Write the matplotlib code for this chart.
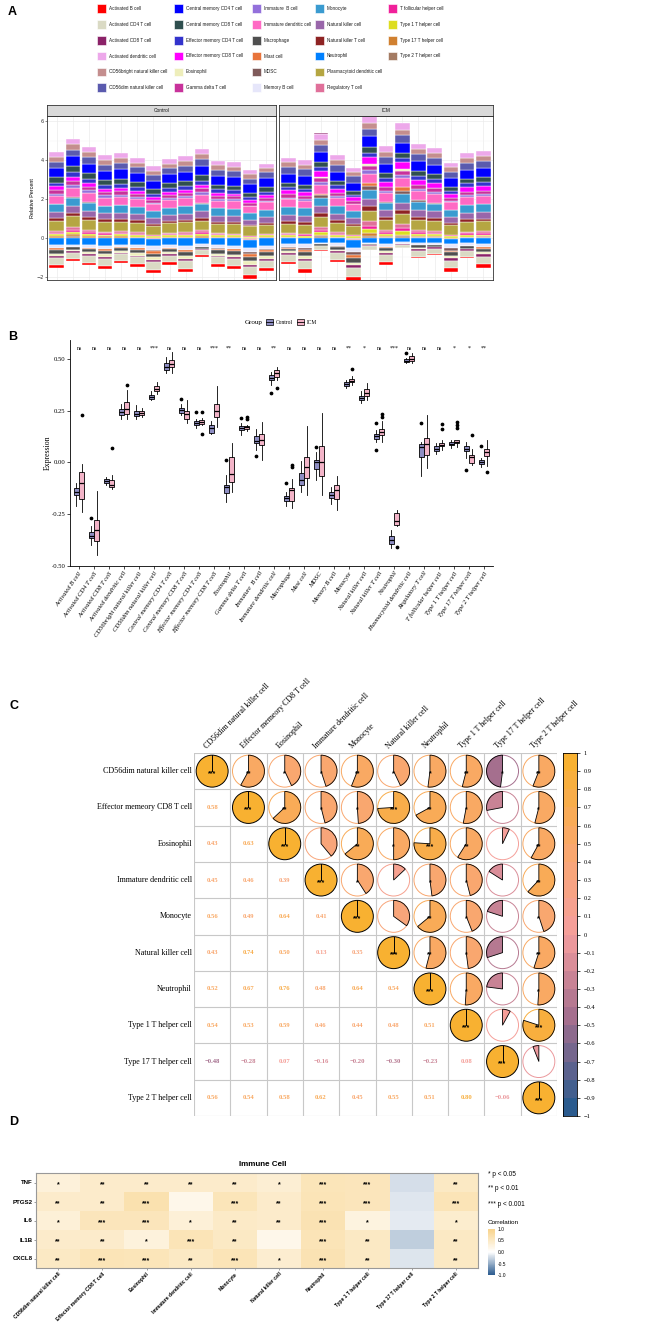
import numpy as np
import matplotlib
matplotlib.use("Agg")
import matplotlib.pyplot as plt
from matplotlib.patches import Rectangle, Circle, Wedge
from matplotlib.colors import LinearSegmentedColormap, BoundaryNorm

W, H = 672, 1339
SANS = "Liberation Sans"
SERIF = "Liberation Serif"

# ---------------- panel A / B data: immune cell scores per sample ----------------
CELL_TYPES = [
    "Activated B cell", "Activated CD4 T cell", "Activated CD8 T cell", "Activated dendritic cell",
    "CD56bright natural killer cell", "CD56dim natural killer cell", "Central memory CD4 T cell",
    "Central memory CD8 T cell", "Effector memory CD4 T cell", "Effector memory CD8 T cell",
    "Eosinophil", "Gamma delta T cell", "Immature  B cell", "Immature dendritic cell",
    "Macrophage", "Mast cell", "MDSC", "Memory B cell", "Monocyte", "Natural killer cell",
    "Natural killer T cell", "Neutrophil", "Plasmacytoid dendritic cell", "Regulatory T cell",
    "T follicular helper cell", "Type 1 T helper cell", "Type 17 T helper cell", "Type 2 T helper cell",
]
CELL_COLORS = [
    "#FF0000", "#DADAC4", "#8B2268", "#EDA8EA", "#C48E8E", "#5A5AAE", "#0000FF", "#2F4F4F",
    "#3333CC", "#FF00FF", "#EEEEBB", "#C8329B", "#9370DB", "#FF69C4", "#4F4F4F", "#E8743B",
    "#7F5A5A", "#E6E6FA", "#3A9BD0", "#9966AA", "#8E2323", "#0080FF", "#B5A642", "#E0709A",
    "#F0209A", "#DDDD20", "#D08030", "#A47B63",
]

# 14 Control samples, one row per cell type (same order as CELL_TYPES)
ctrl_scores = [
    [-0.147, -0.108, -0.13, -0.155, -0.115, -0.143, -0.175, -0.123, -0.19, -0.10, -0.138, -0.15, -0.21, -0.162],
    [-0.357, -0.31, -0.342, -0.365, -0.325, -0.353, -0.375, -0.335, -0.385, -0.27, -0.35, -0.36, -0.40, -0.37],
    [-0.091, -0.073, -0.082, -0.097, -0.076, -0.089, -0.102, -0.079, -0.105, -0.07, -0.086, -0.094, -0.11, -0.10],
    [0.258, 0.28, 0.272, 0.25, 0.253, 0.243, 0.22, 0.24, 0.247, 0.265, 0.235, 0.23, 0.21, 0.225],
    [0.248, 0.275, 0.265, 0.24, 0.244, 0.233, 0.215, 0.23, 0.237, 0.255, 0.227, 0.225, 0.21, 0.22],
    [0.327, 0.345, 0.338, 0.319, 0.323, 0.314, 0.302, 0.311, 0.316, 0.332, 0.308, 0.305, 0.30, 0.304],
    [0.485, 0.51, 0.50, 0.468, 0.477, 0.457, 0.435, 0.452, 0.463, 0.492, 0.448, 0.445, 0.43, 0.44],
    [0.266, 0.305, 0.28, 0.26, 0.263, 0.253, 0.235, 0.248, 0.257, 0.272, 0.243, 0.24, 0.23, 0.238],
    [0.202, 0.245, 0.21, 0.195, 0.199, 0.188, 0.172, 0.185, 0.192, 0.206, 0.182, 0.18, 0.165, 0.177],
    [0.183, 0.20, 0.194, 0.174, 0.178, 0.16, 0.137, 0.152, 0.17, 0.188, 0.145, 0.14, 0.135, 0.139],
    [-0.122, -0.06, -0.111, -0.145, -0.09, -0.118, -0.16, -0.108, -0.17, 0.01, -0.114, -0.13, -0.19, -0.152],
    [0.177, 0.215, 0.19, 0.17, 0.174, 0.163, 0.145, 0.16, 0.167, 0.183, 0.157, 0.155, 0.13, 0.152],
    [0.13, 0.16, 0.15, 0.112, 0.12, 0.103, 0.06, 0.10, 0.107, 0.14, 0.095, 0.09, 0.03, 0.08],
    [0.422, 0.435, 0.431, 0.415, 0.418, 0.408, 0.375, 0.405, 0.412, 0.427, 0.402, 0.40, 0.335, 0.39],
    [-0.176, -0.145, -0.167, -0.183, -0.155, -0.174, -0.19, -0.162, -0.198, -0.10, -0.171, -0.179, -0.21, -0.186],
    [-0.088, -0.015, -0.06, -0.105, -0.035, -0.082, -0.12, -0.05, -0.13, 0.005, -0.075, -0.095, -0.145, -0.112],
    [0.012, 0.075, 0.05, 0.006, 0.008, -0.005, -0.06, -0.015, 0.004, 0.03, -0.025, -0.032, -0.085, -0.045],
    [-0.162, -0.128, -0.148, -0.172, -0.135, -0.158, -0.182, -0.142, -0.19, -0.12, -0.154, -0.167, -0.20, -0.176],
    [0.391, 0.40, 0.397, 0.384, 0.388, 0.379, 0.363, 0.376, 0.381, 0.394, 0.373, 0.37, 0.36, 0.366],
    [0.322, 0.345, 0.336, 0.315, 0.318, 0.309, 0.292, 0.306, 0.312, 0.328, 0.303, 0.30, 0.285, 0.297],
    [0.138, 0.19, 0.155, 0.13, 0.133, 0.123, 0.10, 0.12, 0.127, 0.145, 0.117, 0.114, 0.06, 0.108],
    [-0.377, -0.338, -0.362, -0.39, -0.347, -0.373, -0.40, -0.355, -0.405, -0.33, -0.368, -0.383, -0.415, -0.396],
    [0.501, 0.53, 0.505, 0.494, 0.497, 0.489, 0.482, 0.488, 0.491, 0.503, 0.487, 0.485, 0.48, 0.484],
    [0.088, 0.19, 0.10, 0.081, 0.084, 0.072, -0.02, 0.06, 0.078, 0.094, 0.035, 0.022, -0.065, 0.01],
    [0.082, 0.095, 0.091, 0.072, 0.078, 0.063, 0.047, 0.06, 0.067, 0.087, 0.057, 0.055, 0.04, 0.052],
    [0.101, 0.11, 0.107, 0.094, 0.098, 0.089, 0.077, 0.088, 0.091, 0.104, 0.086, 0.085, 0.07, 0.082],
    [0.082, 0.10, 0.094, 0.071, 0.077, 0.063, 0.02, 0.06, 0.067, 0.088, 0.057, 0.054, -0.035, 0.045],
    [0.012, 0.08, 0.02, 0.005, 0.008, -0.001, -0.02, -0.004, 0.002, 0.016, -0.008, -0.011, -0.025, -0.015],
]

# 13 ICM samples
icm_scores = [
    [-0.12, -0.21, -0.03, -0.10, -0.24, 0.23, -0.15, -0.01, -0.08, -0.045, -0.19, -0.06, -0.18],
    [-0.35, -0.42, -0.22, -0.33, -0.45, -0.18, -0.37, -0.14, -0.31, -0.28, -0.40, -0.30, -0.38],
    [-0.113, -0.125, 0.07, -0.11, -0.13, -0.075, -0.117, -0.06, -0.105, -0.085, -0.122, -0.095, -0.12],
    [0.235, 0.23, 0.31, 0.245, 0.21, 0.375, 0.28, 0.35, 0.29, 0.27, 0.22, 0.25, 0.26],
    [0.23, 0.226, 0.255, 0.233, 0.22, 0.265, 0.246, 0.26, 0.25, 0.243, 0.223, 0.236, 0.24],
    [0.345, 0.34, 0.377, 0.348, 0.33, 0.39, 0.365, 0.383, 0.37, 0.36, 0.335, 0.352, 0.355],
    [0.46, 0.455, 0.505, 0.465, 0.43, 0.535, 0.488, 0.52, 0.495, 0.48, 0.445, 0.47, 0.475],
    [0.21, 0.205, 0.262, 0.218, 0.19, 0.30, 0.245, 0.28, 0.25, 0.24, 0.198, 0.226, 0.235],
    [0.185, 0.183, 0.21, 0.188, 0.135, 0.245, 0.201, 0.215, 0.205, 0.198, 0.18, 0.191, 0.195],
    [0.22, 0.205, 0.31, 0.23, 0.17, 0.37, 0.27, 0.34, 0.28, 0.26, 0.19, 0.24, 0.25],
    [-0.07, -0.125, 0.05, -0.055, -0.145, 0.075, -0.085, 0.095, -0.03, 0.025, -0.11, -0.01, -0.095],
    [0.16, 0.158, 0.18, 0.163, 0.15, 0.22, 0.174, 0.21, 0.175, 0.172, 0.155, 0.166, 0.17],
    [0.085, 0.07, 0.15, 0.095, 0.01, 0.195, 0.128, 0.175, 0.135, 0.12, 0.05, 0.10, 0.11],
    [0.415, 0.408, 0.45, 0.42, 0.36, 0.46, 0.44, 0.455, 0.445, 0.435, 0.40, 0.425, 0.43],
    [-0.145, -0.20, -0.08, -0.135, -0.22, -0.025, -0.16, -0.015, -0.128, -0.125, -0.19, -0.132, -0.185],
    [-0.04, -0.12, 0.08, -0.025, -0.16, 0.13, -0.06, 0.175, 0.01, 0.025, -0.09, -0.01, -0.075],
    [-0.065, -0.09, 0.15, -0.04, -0.16, 0.24, 0.05, 0.2, 0.08, 0.02, -0.12, -0.02, 0.0],
    [-0.145, -0.21, -0.095, -0.135, -0.23, -0.08, -0.16, -0.065, -0.125, -0.11, -0.195, -0.118, -0.18],
    [0.39, 0.386, 0.41, 0.392, 0.375, 0.45, 0.402, 0.42, 0.405, 0.398, 0.382, 0.394, 0.395],
    [0.32, 0.315, 0.365, 0.325, 0.30, 0.385, 0.348, 0.375, 0.355, 0.34, 0.308, 0.33, 0.335],
    [0.13, 0.125, 0.20, 0.135, 0.10, 0.235, 0.155, 0.22, 0.16, 0.15, 0.115, 0.14, 0.145],
    [-0.292, -0.31, -0.24, -0.285, -0.41, -0.235, -0.30, -0.23, -0.26, -0.245, -0.307, -0.275, -0.305],
    [0.49, 0.487, 0.52, 0.493, 0.48, 0.53, 0.51, 0.525, 0.515, 0.504, 0.484, 0.497, 0.50],
    [0.035, 0.02, 0.15, 0.06, -0.03, 0.23, 0.11, 0.19, 0.12, 0.10, 0.0, 0.08, 0.09],
    [0.08, 0.075, 0.11, 0.082, 0.06, 0.185, 0.091, 0.16, 0.095, 0.088, 0.065, 0.084, 0.085],
    [0.095, 0.093, 0.165, 0.098, 0.075, 0.195, 0.108, 0.18, 0.11, 0.104, 0.09, 0.099, 0.10],
    [-0.005, -0.007, 0.05, 0.005, -0.015, 0.13, 0.031, 0.065, 0.035, 0.028, -0.01, 0.015, 0.025],
    [0.03, 0.01, 0.08, 0.038, -0.045, 0.11, 0.06, 0.095, 0.065, 0.055, -0.02, 0.045, 0.05],
]

sig_labels = ["ns", "ns", "ns", "ns", "ns", "***", "ns", "ns", "ns", "***", "**", "ns", "ns", "**",
              "ns", "ns", "ns", "ns", "**", "*", "ns", "***", "ns", "ns", "ns", "*", "*", "**"]

# ---------------- panel C data: correlation among key cells ----------------
C_CELLS = ["CD56dim natural killer cell", "Effector memeory CD8 T cell", "Eosinophil",
           "Immature dendritic cell", "Monocyte", "Natural killer cell", "Neutrophil",
           "Type 1 T helper cell", "Type 17 T helper cell", "Type 2 T helper cell"]
c_lower = [
    [],
    [0.58],
    [0.43, 0.63],
    [0.45, 0.46, 0.39],
    [0.56, 0.49, 0.64, 0.41],
    [0.43, 0.74, 0.50, 0.13, 0.35],
    [0.52, 0.67, 0.76, 0.48, 0.64, 0.54],
    [0.54, 0.53, 0.59, 0.46, 0.44, 0.48, 0.51],
    [-0.48, -0.28, 0.07, -0.16, -0.20, -0.30, -0.23, 0.08],
    [0.56, 0.54, 0.58, 0.62, 0.45, 0.55, 0.51, 0.80, -0.06],
]
c_stars_upper = [
    ["**", "*", "*", "**", "*", "*", "**", "*", "**"],
    ["**", "*", "*", "***", "**", "*", "", "*"],
    ["", "**", "*", "***", "**", "", "**"],
    ["*", "", "*", "*", "", "**"],
    ["", "**", "*", "", "*"],
    ["**", "*", "", "**"],
    ["*", "", "*"],
    ["", "***"],
    [""],
]

# ---------------- panel D data: inflammatory genes vs immune cells ----------------
D_GENES = ["TNF", "PTGS2", "IL6", "IL1B", "CXCL8"]
D_CELLS = ["CD56dim natural killer cell", "Effector memory CD8 T cell", "Eosinophil",
           "Immature dendritic cell", "Monocyte", "Natural killer cell", "Neutrophil",
           "Type 1 T helper cell", "Type 17 T helper cell", "Type 2 T helper cell"]
d_corr = [
    [0.32, 0.45, 0.45, 0.45, 0.45, 0.38, 0.60, 0.58, -0.20, 0.50],
    [0.45, 0.45, 0.68, 0.18, 0.60, 0.45, 0.62, 0.58, -0.15, 0.62],
    [0.35, 0.58, 0.58, 0.35, 0.48, 0.45, 0.65, 0.28, -0.13, 0.42],
    [0.45, 0.45, 0.30, 0.62, 0.50, 0.18, 0.62, 0.50, -0.30, 0.50],
    [0.50, 0.62, 0.60, 0.50, 0.62, 0.40, 0.65, 0.50, -0.16, 0.50],
]
d_stars = [
    ["*", "**", "**", "**", "**", "*", "***", "***", "", "**"],
    ["**", "**", "***", "", "***", "**", "***", "***", "", "***"],
    ["*", "***", "***", "*", "**", "**", "***", "*", "", "*"],
    ["**", "**", "*", "***", "**", "", "***", "**", "", "**"],
    ["**", "***", "***", "**", "***", "*", "***", "**", "", "**"],
]


def px_axes(fig, x0, y0, x1, y1, **kw):
    return fig.add_axes([x0 / W, 1 - y1 / H, (x1 - x0) / W, (y1 - y0) / H], **kw)


def ftext(fig, x, y, s, **kw):
    fig.text(x / W, 1 - y / H, s, **kw)


def frect(fig, x, y, w, h, **kw):
    fig.add_artist(Rectangle((x / W, 1 - (y + h) / H), w / W, h / H,
                             transform=fig.transFigure, **kw))


fig = plt.figure(figsize=(W / 100, H / 100), dpi=100)

# ---------------- panel letters ----------------
for lab, x, y in [("A", 8, 12), ("B", 8, 337), ("C", 9, 706), ("D", 9, 1122)]:
    ftext(fig, x, y, lab, fontsize=9, fontweight="bold", family=SANS, ha="left", va="center")

# ---------------- panel A: legend ----------------
leg_x = [97, 174, 252, 315, 388]
for k, (name, col) in enumerate(zip(CELL_TYPES, CELL_COLORS)):
    cx = leg_x[k // 6]
    cy = 8.3 + (k % 6) * 15.9
    frect(fig, cx, cy - 4.4, 8.8, 8.8, facecolor=col, edgecolor="white", linewidth=0.4)
    ftext(fig, cx + 12, cy, name, fontsize=3.3, family=SANS, ha="left", va="center", color="#1A1A1A")

# ---------------- panel A: stacked bars ----------------
for i, (x0, x1, scores, name) in enumerate([(47, 276, ctrl_scores, "Control"),
                                            (279, 493, icm_scores, "ICM")]):
    ax = px_axes(fig, x0, 116, x1, 280)
    n = len(scores[0])
    xs = np.arange(1, n + 1)
    pos_base = np.zeros(n)
    neg_base = np.zeros(n)
    for k in range(len(CELL_TYPES) - 1, -1, -1):
        v = np.array(scores[k], float)
        for sel, base in ((v > 0, pos_base), (v < 0, neg_base)):
            if sel.any():
                ax.bar(xs[sel], v[sel], 0.9, bottom=base[sel], color=CELL_COLORS[k],
                       edgecolor="white", linewidth=0.3, zorder=2)
                base[sel] += v[sel]
    ax.set_xlim(0.4, n + 0.6)
    ax.set_ylim(-2.16, 6.26)
    ax.set_xticks(xs)
    ax.set_yticks([-2, 0, 2, 4, 6])
    ax.set_yticks([-1, 1, 3, 5], minor=True)
    ax.grid(True, which="major", color="#EBEBEB", lw=0.5, zorder=0)
    ax.grid(True, which="minor", axis="y", color="#F3F3F3", lw=0.3, zorder=0)
    ax.tick_params(axis="x", length=0, labelbottom=False)
    ax.tick_params(axis="y", which="minor", length=0)
    if i == 0:
        ax.tick_params(axis="y", length=1.5, width=0.4, color="#333333", pad=1,
                       labelsize=3.6, labelcolor="#333333")
    else:
        ax.tick_params(axis="y", length=0, labelleft=False)
    for sp in ax.spines.values():
        sp.set_color("#333333")
        sp.set_linewidth(0.6)
    strip = px_axes(fig, x0, 105, x1, 116)
    strip.set_facecolor("#D9D9D9")
    strip.set_xticks([])
    strip.set_yticks([])
    for sp in strip.spines.values():
        sp.set_color("#333333")
        sp.set_linewidth(0.6)
    strip.text(0.5, 0.5, name, transform=strip.transAxes, ha="center", va="center",
               fontsize=3.5, family=SANS, color="#1A1A1A")

ftext(fig, 33, 198, "Relative Percent", rotation=90, ha="center", va="center",
      fontsize=3.9, family=SANS)

# ---------------- panel B: boxplots ----------------
CTRL_FILL = "#8E8EC3"
ICM_FILL = "#F3B4C8"
axb = px_axes(fig, 70, 340, 493, 566)
pos = np.arange(1, len(CELL_TYPES) + 1)
for data, offs, fill in [(ctrl_scores, -0.19, CTRL_FILL), (icm_scores, 0.19, ICM_FILL)]:
    axb.boxplot(data, positions=pos + offs, widths=0.35, patch_artist=True, whis=1.5,
                showcaps=False, manage_ticks=False,
                boxprops=dict(facecolor=fill, edgecolor="black", linewidth=0.6),
                whiskerprops=dict(color="black", linewidth=0.6),
                medianprops=dict(color="black", linewidth=0.9),
                flierprops=dict(marker="o", markersize=1.7, markerfacecolor="black",
                                markeredgecolor="black"))
for x, s in zip(pos, sig_labels):
    axb.text(x, 0.553, s, ha="center", va="center", fontsize=4.2, family=SERIF)
axb.set_xlim(0.4, len(CELL_TYPES) + 0.6)
axb.set_ylim(-0.502, 0.592)
axb.set_yticks([-0.5, -0.25, 0.0, 0.25, 0.5])
axb.set_yticklabels(["-0.50", "-0.25", "0.00", "0.25", "0.50"], family=SERIF, fontsize=4.8)
axb.set_xticks(pos)
axb.set_xticklabels(CELL_TYPES, rotation=55, ha="right", va="top", rotation_mode="anchor",
                    family=SERIF, fontstyle="italic", fontsize=4.7)
axb.tick_params(axis="both", length=2, width=0.5, pad=1.5)
axb.spines["top"].set_visible(False)
axb.spines["right"].set_visible(False)
for side in ("left", "bottom"):
    axb.spines[side].set_linewidth(0.6)
ftext(fig, 48, 453, "Expression", rotation=90, ha="center", va="center", fontsize=5.6, family=SERIF)

# legend of panel B
ftext(fig, 245, 322, "Group", ha="left", va="center", fontsize=5, family=SERIF)
for kx, tx, lab, fill in [(266, 276, "Control", CTRL_FILL), (297, 307, "ICM", ICM_FILL)]:
    frect(fig, kx, 319, 7, 6, facecolor=fill, edgecolor="black", linewidth=0.5)
    fig.add_artist(plt.Line2D([kx / W, (kx + 7) / W], [1 - 322 / H] * 2,
                              transform=fig.transFigure, color="black", lw=0.6))
    ftext(fig, tx, 322, lab, ha="left", va="center", fontsize=4, family=SERIF)

# ---------------- panel C: correlogram ----------------
cmap_c = LinearSegmentedColormap.from_list(
    "corr_c", [(0.0, "#2B5B8E"), (0.25, "#A16D8D"), (0.5, "#F59E9E"), (0.75, "#F9A86C"), (1.0, "#F8B131")])
bounds = np.linspace(-1, 1, 21)
norm_c = BoundaryNorm(bounds, cmap_c.N)

nc = len(C_CELLS)
corr = np.eye(nc)
for i, row in enumerate(c_lower):
    for j, v in enumerate(row):
        corr[i, j] = v
        corr[j, i] = v


def ccol(v):
    return cmap_c(norm_c(min(v, 0.999)))


axc = px_axes(fig, 194, 753, 557, 1116)
axc.set_xlim(0, nc)
axc.set_ylim(0, nc)
axc.axis("off")
for g in range(nc + 1):
    axc.plot([g, g], [0, nc], color="#C8C8C8", lw=0.8, zorder=0)
    axc.plot([0, nc], [g, g], color="#C8C8C8", lw=0.8, zorder=0)
R = 0.44
for i in range(nc):
    cy = nc - 0.5 - i
    for j in range(nc):
        cx = j + 0.5
        v = corr[i, j]
        col = ccol(v)
        if i == j:
            axc.add_patch(Circle((cx, cy), R, facecolor=col, edgecolor="black", lw=0.7, zorder=2))
            axc.plot([cx, cx], [cy, cy + R], color="black", lw=0.7, zorder=3)
            axc.text(cx, cy - 0.07, "***", ha="center", va="center", fontsize=5,
                     family=SANS, fontweight="bold", zorder=4)
        elif j > i:
            axc.add_patch(Circle((cx, cy), R, fill=False, edgecolor=col, lw=0.7, zorder=2))
            if v >= 0:
                t1, t2 = 90 - 360 * v, 90
            else:
                t1, t2 = 90, 90 - 360 * v
            axc.add_patch(Wedge((cx, cy), R, t1, t2, facecolor=col, edgecolor="black",
                                lw=0.6, zorder=3))
            s = c_stars_upper[i][j - i - 1]
            if s:
                axc.text(cx, cy - 0.07, s, ha="center", va="center", fontsize=5,
                         family=SANS, fontweight="bold", zorder=4)
        else:
            axc.text(cx, cy, f"{v:.2f}".replace("-", "\u2212"), ha="center", va="center",
                     fontsize=4.8, family=SERIF, fontweight="bold", color=col)
    axc.text(-0.06, cy, C_CELLS[i], ha="right", va="center", fontsize=5.8, family=SERIF)
for j in range(nc):
    axc.text(j + 0.4, nc + 0.08, C_CELLS[j], rotation=45, ha="left", va="bottom",
             rotation_mode="anchor", fontsize=5.8, family=SERIF)

cbc = px_axes(fig, 563, 753, 577, 1116)
centers = (bounds[:-1] + bounds[1:]) / 2
cbc.pcolormesh([0, 1], bounds, centers.reshape(-1, 1), cmap=cmap_c, norm=norm_c)
cbc.set_xlim(0, 1)
cbc.set_ylim(-1, 1)
cbc.set_xticks([])
cbc.yaxis.tick_right()
ticks_c = np.round(np.linspace(1, -1, 21), 1)
cbc.set_yticks(ticks_c)
cbc.set_yticklabels([("%g" % t).replace("-", "\u2212") for t in ticks_c], family=SERIF, fontsize=4.6)
cbc.tick_params(axis="y", length=2, width=0.5, pad=3)
for sp in cbc.spines.values():
    sp.set_linewidth(0.6)

# ---------------- panel D: heatmap ----------------
cmap_d = LinearSegmentedColormap.from_list("corr_d", ["#2C5C90", "#FFFFFF", "#F8D38B"])
axd = px_axes(fig, 36, 1173, 478, 1268)
nd_r, nd_c = len(D_GENES), len(D_CELLS)
axd.pcolormesh(np.arange(nd_c + 1), np.arange(nd_r + 1), np.array(d_corr),
               cmap=cmap_d, vmin=-1, vmax=1)
axd.set_xlim(0, nd_c)
axd.set_ylim(nd_r, 0)
for i in range(nd_r):
    for j in range(nd_c):
        if d_stars[i][j]:
            axd.text(j + 0.5, i + 0.6, d_stars[i][j], ha="center", va="center",
                     fontsize=5, fontweight="bold", family=SANS)
axd.set_xticks(np.arange(nd_c) + 0.5)
axd.set_xticklabels(D_CELLS, rotation=45, ha="right", va="top", rotation_mode="anchor",
                    fontsize=3.6, fontweight="bold", family=SANS)
axd.set_yticks(np.arange(nd_r) + 0.5)
axd.set_yticklabels(D_GENES, fontsize=4.4, fontweight="bold", family=SANS)
axd.tick_params(axis="both", length=1.5, width=0.4, color="#555555", pad=1)
for sp in axd.spines.values():
    sp.set_color("#999999")
    sp.set_linewidth(0.8)
ftext(fig, 263, 1164, "Immune Cell", ha="center", va="center", fontsize=5.8,
      fontweight="bold", family=SANS)

for lab, y in [("* p < 0.05", 1174), ("** p < 0.01", 1189), ("*** p < 0.001", 1204)]:
    ftext(fig, 488, y, lab, ha="left", va="center", fontsize=4.7, family=SANS)
ftext(fig, 488, 1222, "Correlation", ha="left", va="center", fontsize=4.6, family=SANS)
cbd = px_axes(fig, 488, 1229, 495, 1275)
grad = np.linspace(-1, 1, 101).reshape(-1, 1)
cbd.pcolormesh([0, 1], np.linspace(-1, 1, 102), grad, cmap=cmap_d, vmin=-1, vmax=1)
cbd.set_xlim(0, 1)
cbd.set_ylim(-1, 1)
cbd.set_xticks([])
cbd.yaxis.tick_right()
cbd.set_yticks([1, 0.5, 0, -0.5, -1])
cbd.set_yticklabels(["1.0", "0.5", "0.0", "-0.5", "-1.0"], fontsize=3.5, family=SANS)
cbd.tick_params(axis="y", length=1, width=0.3, pad=1, color="white")
for sp in cbd.spines.values():
    sp.set_visible(False)

fig.savefig("out.png", dpi=100)
